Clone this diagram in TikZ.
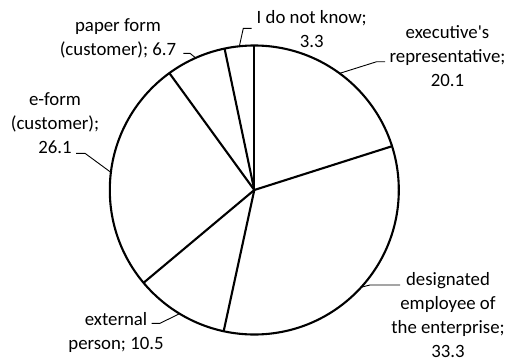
\documentclass[tikz,border=0pt]{standalone}
\usepackage{fontspec}
\setmainfont{Carlito}[Ligatures=TeXOff]
\begin{document}
\begin{tikzpicture}[x=1pt,y=1pt,
  slice/.style={line width=2.1pt, line join=round},
  leader/.style={line width=0.9pt},
  lbl/.style={inner sep=0pt, anchor=base, font=\fontsize{18.8}{24}\selectfont}]
\useasboundingbox (0,0) rectangle (511,360);
\coordinate (C) at (254.3,170);
\def\R{144.5}
\draw[slice] (C) circle[radius=\R];
\foreach \a in {90,17.64,-102.24,-140.04,126,101.88} \draw[slice] (C) -- ++(\a:\R);
% label anchor points on the rim
\path (C) ++(53.82:\R) coordinate (exP);
\path (C) ++(-42.3:\R) coordinate (deP);
\path (C) ++(-121.14:\R) coordinate (xtP);
\path (C) ++(172.98:\R) coordinate (efP);
\path (C) ++(113.94:\R) coordinate (ppP);
\path (C) ++(95.94:\R) coordinate (idP);
% labels
\node[lbl] (idk) at (311.7,336.7) {\begin{tabular}[t]{@{}c@{}}I do not know;\\3.3\end{tabular}};
\node[lbl] (exe) at (447.5,321.7) {\begin{tabular}[t]{@{}c@{}}executive's\\representative;\\20.1\end{tabular}};
\node[lbl] (des) at (448,74.5) {\begin{tabular}[t]{@{}c@{}}designated\\employee of\\the enterprise;\\33.3\end{tabular}};
\node[lbl] (ext) at (116,35) {\begin{tabular}[t]{@{}c@{}}external\\person; 10.5\end{tabular}};
\node[lbl] (efo) at (55,255) {\begin{tabular}[t]{@{}c@{}}e-form\\(customer);\\26.1\end{tabular}};
\node[lbl] (pap) at (118,328.3) {\begin{tabular}[t]{@{}c@{}}paper form\\(customer); 6.7\end{tabular}};
% leader ends
\coordinate (idE) at (251.7,331.7);
\coordinate (exE) at (385,298.3);
\coordinate (deE) at (400,75);
\coordinate (xtE) at (151.7,36.7);
\coordinate (efE) at (76,206.7);
\coordinate (ppE) at (183.3,306.7);
\draw[leader] (idP) -- (243.3,331.7) -- (idE);
\draw[leader] (exP) -- (376.7,298.3) -- (exE);
\draw[leader] (deP) -- (370,75) -- (deE);
\draw[leader] (xtP) -- (160,36.7) -- (xtE);
\draw[leader] (efP) -- (85,206.7) -- (efE);
\draw[leader] (ppP) -- (190,306.7) -- (ppE);
\end{tikzpicture}
\end{document}
